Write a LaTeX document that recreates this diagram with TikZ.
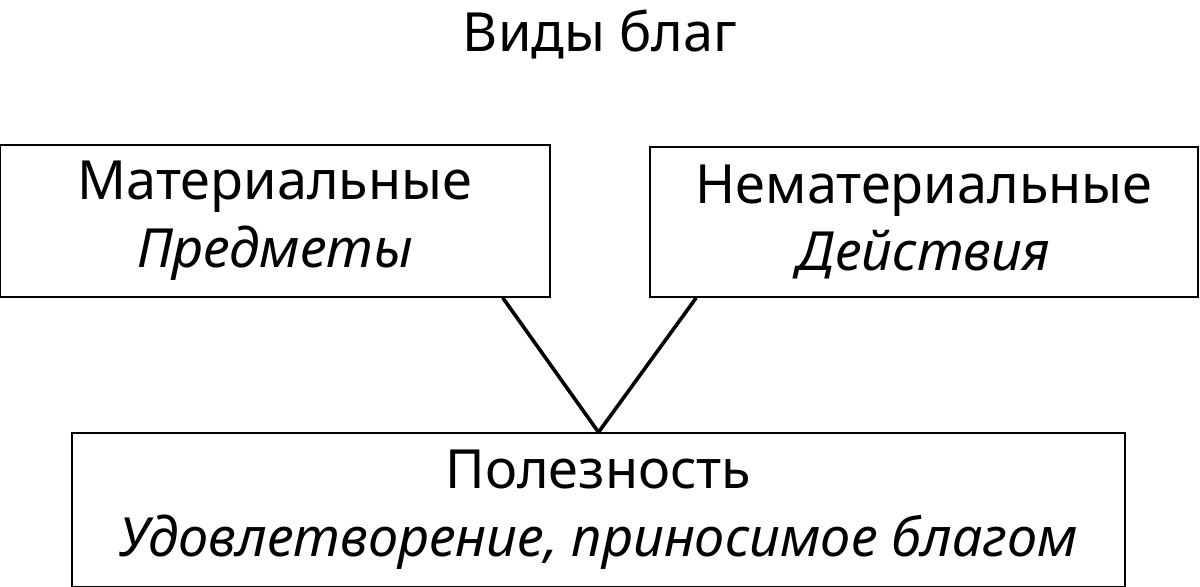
\documentclass[tikz,border=0pt]{standalone}
\usepackage{fontspec}
\setmainfont{Noto Sans}
\begin{document}
\begin{tikzpicture}
    [x=0.5pt, y=0.5pt, every node/.style={font=\fontsize{27}{34}\selectfont},
     box/.style={rectangle, draw, line width=0.75pt, align=center, inner sep=0pt}]

  \useasboundingbox (0,0) rectangle (1200,587);

  \node (title) at (600,552) {Виды благ};
  \node (mat) [box, minimum width=275pt, minimum height=76pt] at (275,366)
    {Материальные\\\textit{Предметы}};
  \node (nemat) [box, minimum width=274pt, minimum height=75pt] at (924,365)
    {Нематериальные\\\textit{Действия}};
  \node (pol) [box, minimum width=526.5pt, minimum height=77pt] at (598.5,77)
    {Полезность\\\textit{Удовлетворение, приносимое благом}};

  \draw[line width=1.8pt] ([xshift=-24pt]mat.south east) -- (pol.north);
  \draw[line width=1.8pt] ([xshift=23.5pt]nemat.south west) -- (pol.north);
\end{tikzpicture}
\end{document}
